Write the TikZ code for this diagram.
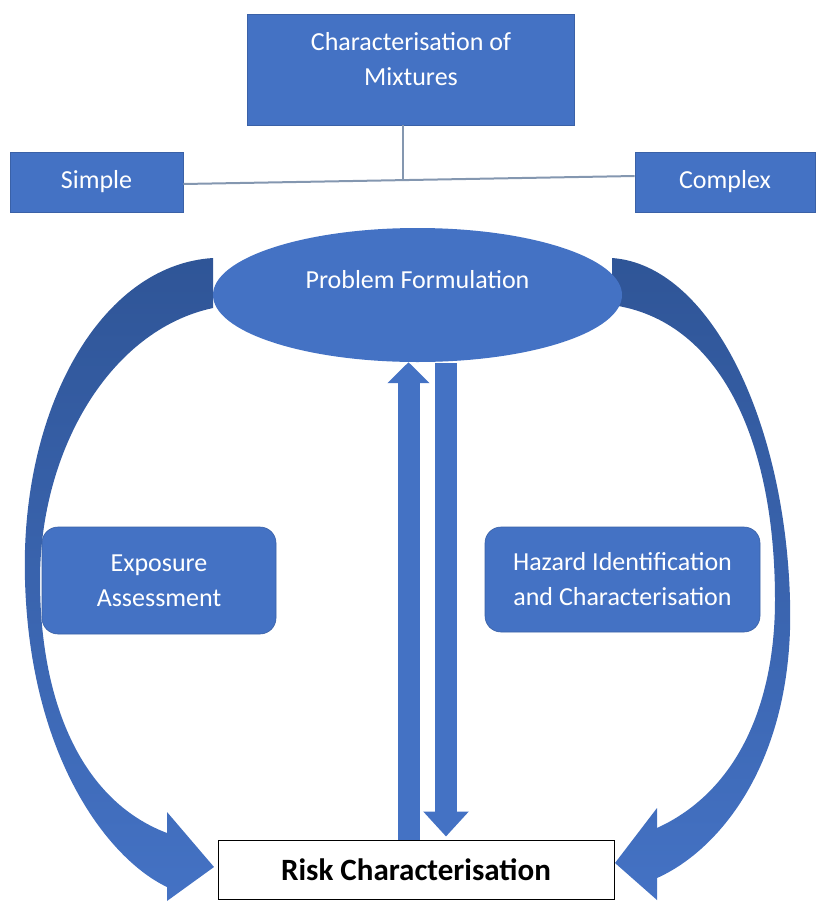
\documentclass[tikz,border=0pt]{standalone}
\usepackage{fontspec}
\setmainfont{Carlito}
\usetikzlibrary{positioning,arrows.meta,shapes.geometric}
\definecolor{boxblue}{HTML}{4472C4}
\definecolor{arrowdark}{HTML}{2F5597}
\definecolor{linkgray}{HTML}{8497B0}

\begin{document}
\begin{tikzpicture}[x=1pt,y=-1pt,
  every node/.style={font=\fontsize{26}{35}\selectfont},
  bluebox/.style={draw=boxblue!85!black,line width=0.6pt,fill=boxblue,text=white,align=center},
  roundbox/.style={bluebox,rounded corners=16pt},
  link/.style={draw=linkgray,line width=2pt},
  flow/.style={draw=boxblue,line width=22pt},
  bigarrow/.style={top color=arrowdark,bottom color=boxblue,draw=none}]
\useasboundingbox (0,0) rectangle (820,903);
% Mixture types at the top
\node[bluebox,minimum width=327pt,minimum height=111pt,label={[white,yshift=10pt,align=center]center:Characterisation of\\Mixtures}] (mix) at (411,69.5) {};
\node[bluebox,minimum width=173pt,minimum height=60pt] (simple) at (96.5,182) {Simple};
\node[bluebox,minimum width=180pt,minimum height=60pt] (complex) at (725,182) {Complex};
\coordinate (jn) at (403,180);
\draw[link] (mix.south -| jn) -- (jn);
\draw[link] ([yshift=-2pt]simple.east) -- ([yshift=6pt]complex.west);
% Curved side arrows
\shade[bigarrow] (213,258) .. controls (100,265) and (20,410) .. (25,580)
  .. controls (30,760) and (110,860) .. (167,887)
  -- (167,901) -- (214,867) -- (167,812) -- (167,833)
  .. controls (80,800) and (40,700) .. (40,580)
  .. controls (40,450) and (110,330) .. (213,308) -- cycle;
\shade[bigarrow] (612,258) .. controls (710,265) and (785,420) .. (790,600)
  .. controls (795,760) and (720,850) .. (657,878)
  -- (657,900) -- (615,863) -- (657,808) -- (657,828)
  .. controls (740,790) and (775,700) .. (775,600)
  .. controls (775,440) and (720,320) .. (612,305) -- cycle;
% Assessment steps
\node[ellipse,fill=boxblue,minimum width=409pt,minimum height=134pt,label={[white,yshift=15pt]center:Problem Formulation}] (pf) at (417.5,295) {};
\node[roundbox,minimum width=234pt,minimum height=107pt] (expo) at (159,580.5) {Exposure\\Assessment};
\node[roundbox,minimum width=275pt,minimum height=105pt] (haz) at (622.5,579.5) {Hazard Identification\\and Characterisation};
\node[draw=black,line width=1pt,fill=white,minimum width=396pt,minimum height=59pt,font=\fontsize{31}{36}\selectfont\bfseries] (risk) at (416,869.5) {Risk Characterisation};
\draw[flow,-{Triangle[width=41pt,length=21pt]}] ([xshift=-7.5pt]risk.north) -- ([xshift=-7.5pt]risk.north |- pf.south);
\draw[flow,-{Triangle[width=44pt,length=25pt]}] ([xshift=30pt,yshift=-1pt]risk.north |- pf.south) -- ([xshift=30pt,yshift=3pt]risk.north);
\end{tikzpicture}
\end{document}
